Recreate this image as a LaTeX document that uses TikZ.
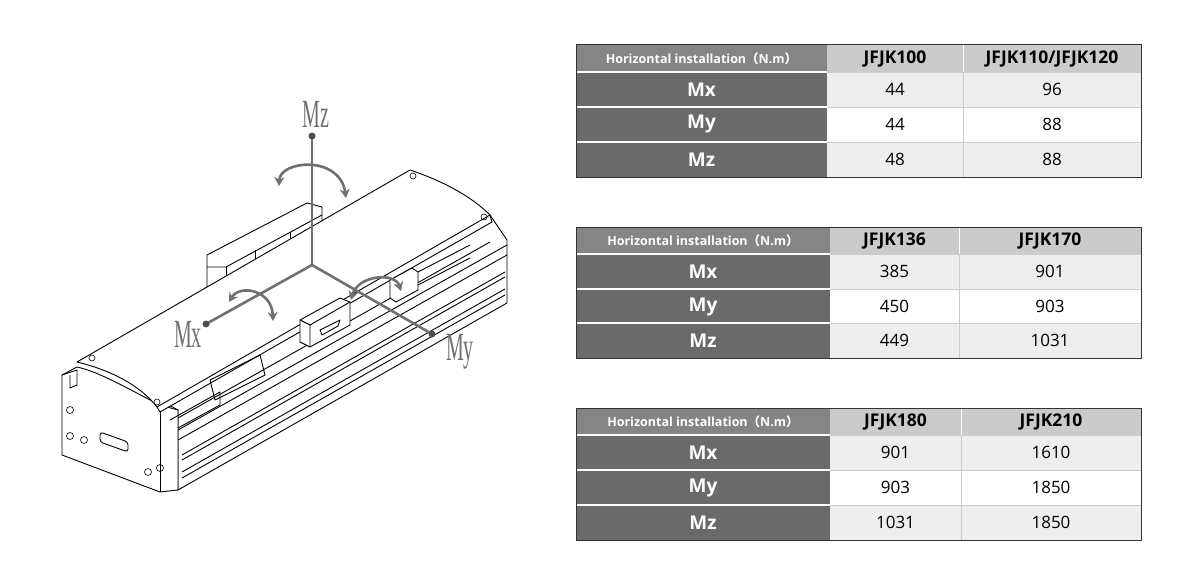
\documentclass[tikz,border=0pt]{standalone}
\usepackage{fontspec}
\setmainfont{Open Sans}
\newfontfamily\lblfont{Liberation Serif}
\newfontfamily\cjk{Noto Sans CJK SC}
\usetikzlibrary{arrows.meta}
\definecolor{dk}{HTML}{6A6A6A}
\definecolor{hd}{HTML}{858585}
\definecolor{hl}{HTML}{CBCBCB}
\definecolor{lt}{HTML}{EEEEEE}
\definecolor{ax}{HTML}{707070}
\tikzset{
 ln/.style={line width=0.9pt,black,line join=round},
 axis/.style={ax,line width=2.6pt},
 rot/.style={ax,line width=2.6pt,{Stealth[length=9pt,width=10pt]}-{Stealth[length=9pt,width=10pt]}},
 lbl/.style={ax,font=\lblfont\fontsize{40}{40}\selectfont,xscale=0.5},
}
\newcommand\mytbl[6]{%
 \fill[hd] (576,#2) rectangle (#3,#2+27);
 \node[white,font=\bfseries\fontsize{12.5}{13}\selectfont] (#1h0) at ({(576+#3)/2},#2+13.5) {Horizontal installation{\cjk （}N.m{\cjk ）}};
 \fill[hl] (#3,#2) rectangle (1141,#2+27);
 \draw[white,line width=1pt] (#4,#2) -- (#4,#2+27);
 \node[font=\bfseries\fontsize{17.5}{18}\selectfont] (#1h1) at ({(#3+#4)/2},#2+14) {#5};
 \node[font=\bfseries\fontsize{17.5}{18}\selectfont] (#1h2) at ({(#4+1141)/2},#2+14) {#6};
}
\newcommand\myrow[7]{%
 \fill[dk] (576,#2) rectangle (#3,#2+35);
 \fill[\rowfill] (#3,#2) rectangle (1141,#2+35);
 \draw[white,line width=1.2pt] (576,#2) -- (#3,#2);
 \draw[white!80!black,line width=0.8pt] (#3,#2) -- (1141,#2);
 \draw[white!80!black,line width=0.8pt] (#4,#2) -- (#4,#2+35);
 \node[white,font=\bfseries\fontsize{19}{19}\selectfont] (#1l) at ({(576+#3)/2},#2+17.5) {#5};
 \node[font=\fontsize{17}{17}\selectfont] (#1a) at ({(#3+#4)/2},#2+17.5) {#6};
 \node[font=\fontsize{17}{17}\selectfont] (#1b) at ({(#4+1141)/2},#2+17.5) {#7};
}
\begin{document}
\begin{tikzpicture}[x=1pt,y=-1pt]
\useasboundingbox (0,0) rectangle (1200,586);
\fill[white] (0,0) rectangle (1200,586);
% ---------- Table 1
\mytbl{a}{45}{827}{963}{JFJK100}{JFJK110/JFJK120}
\def\rowfill{lt}\myrow{ax1}{72}{827}{963}{Mx}{44}{96}
\def\rowfill{white}\myrow{ay1}{107}{827}{963}{My}{44}{88}
\def\rowfill{lt}\myrow{az1}{142}{827}{963}{Mz}{48}{88}
\draw[black!80,line width=1pt] (576,45) rectangle (1141,177);
% ---------- Table 2
\mytbl{b}{227}{830}{959}{JFJK136}{JFJK170}
\def\rowfill{lt}\myrow{bx1}{254}{830}{959}{Mx}{385}{901}
\def\rowfill{white}\myrow{by1}{289}{830}{959}{My}{450}{903}
\def\rowfill{lt}\myrow{bz1}{323}{830}{959}{Mz}{449}{1031}
\draw[black!80,line width=1pt] (576,227) rectangle (1141,358);
% ---------- Table 3
\mytbl{c}{408}{830}{961}{JFJK180}{JFJK210}
\def\rowfill{lt}\myrow{cx1}{435}{830}{961}{Mx}{901}{1610}
\def\rowfill{white}\myrow{cy1}{470}{830}{961}{My}{903}{1850}
\def\rowfill{lt}\myrow{cz1}{505}{830}{961}{Mz}{1031}{1850}
\draw[black!80,line width=1pt] (576,408) rectangle (1141,540);

% ---------- Module drawing
\draw[ln,fill=white] (207,267) -- (207,287) -- (226,287) -- (322,235) -- (322,207) -- (307,203) -- (207,255) -- cycle;
\draw[ln] (207,267) -- (226,267) -- (322,215);
\draw[ln] (226,267) -- (226,287);
\draw[ln] (255,250) -- (255,268) (290,232) -- (290,250);
\draw[ln,fill=white] (160,400) -- (490,215) -- (507,240) -- (507,303) -- (178,490) -- (178,410) -- cycle;
\draw[ln] (178,430) -- (507,245);
\draw[ln] (178,440) -- (507,255);
\draw[ln] (182,455) -- (505,272);
\draw[ln] (182,460) -- (505,277);
\draw[ln] (182,472) -- (505,289);
\draw[ln] (182,478) -- (505,295);
\draw[ln] (178,418) -- (490,242);
\draw[ln,fill=white] (77,367) -- (62,375) -- (62,455) -- (160,492) -- (178,490) -- (178,410) -- (160,405) .. controls (130,390) and (100,372) .. (77,367);
\draw[ln] (62,375) -- (77,370) -- (77,385) -- (70,388) -- (70,375);
\draw[ln] (160,405) -- (160,492);
\draw[ln,rounded corners=3pt] (100,432) -- (128,442) -- (128,452) -- (100,442) -- cycle;
\foreach \p in {(70,410),(70,436),(84,440),(148,472),(160,468)} \draw[ln,line width=0.6pt] \p circle (3.5);
\draw[ln,fill=white] (77,362) .. controls (110,370) and (140,385) .. (157,407) -- (160,412) -- (492,222) -- (490,215) .. controls (470,195) and (440,180) .. (410,170) -- cycle;
\draw[ln] (157,407) -- (490,215);
\foreach \p in {(92,358),(157,402),(413,176),(484,217)} \draw[ln,line width=0.6pt] \p circle (3);
\draw[ln] (170,420) -- (220,392) -- (220,405) -- (178,428);
\draw[ln] (210,380) -- (260,355) -- (265,375) -- (215,400) -- cycle;
\draw[ln,fill=white] (300,320) -- (340,298) -- (350,302) -- (350,325) -- (310,347) -- (300,342) -- cycle;
\draw[ln] (310,325) -- (310,347) (300,320) -- (310,325) -- (350,302);
\draw[ln] (320,330) -- (340,320) -- (338,326) -- (322,335) -- cycle;
\draw[ln,fill=white] (390,280) -- (412,268) -- (418,272) -- (418,290) -- (396,302) -- (390,298) -- cycle;
\draw[ln] (418,272) -- (470,245) (418,285) -- (470,258);

% ---------- axes
\coordinate (O) at (312,265);
\coordinate (Z) at (312,136);
\coordinate (X) at (206,324);
\coordinate (Y) at (432,334);
\draw[axis] (O) -- (Z);
\draw[axis] (O) -- (X);
\draw[axis] (O) -- (Y);
\fill[ax!70!black] (Z) circle (3.5) (X) circle (3.5) (Y) circle (3.5);
\node[lbl] (lz) at (316,114) {Mz};
\node[lbl] (lx) at (188,334) {Mx};
\node[lbl] (ly) at (460,352) {My};
\draw[rot] (279,186) .. controls (280,160) and (340,155) .. (346,198);
\draw[rot] (229,302) .. controls (240,284) and (272,290) .. (273,321);
\draw[rot] (351,300) .. controls (358,275) and (395,272) .. (401,291);
\end{tikzpicture}
\end{document}
